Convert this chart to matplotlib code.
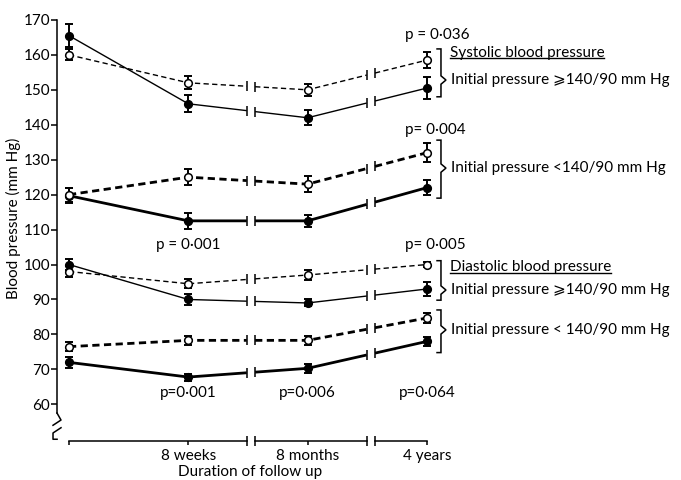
import numpy as np
import matplotlib
matplotlib.use("Agg")
import matplotlib.pyplot as plt

plt.rcParams['font.family'] = ['Lato', 'DejaVu Sans']

# -------------------------------------------------
# Data (mean +/- SE, mm Hg)
# -------------------------------------------------
visits = [0, 1, 2, 3]
visit_labels = ["", "8 weeks", "8 months", "4 years"]

sys_hi_filled = [165.5, 146, 142, 150.5]
sys_hi_filled_se = [3.3, 2.4, 2.2, 3.2]
sys_hi_open = [160, 152, 150, 158.5]
sys_hi_open_se = [1.6, 1.9, 1.8, 2.2]

sys_lo_filled = [119.7, 112.5, 112.5, 122]
sys_lo_filled_se = [2.2, 2.3, 1.7, 2.1]
sys_lo_open = [120, 125, 123, 132]
sys_lo_open_se = [2.0, 2.3, 2.2, 2.7]

dia_hi_filled = [100, 90, 89, 93]
dia_hi_filled_se = [1.5, 1.5, 1.0, 2.0]
dia_hi_open = [98, 94.5, 97, 100]
dia_hi_open_se = [1.5, 1.3, 1.3, 0.7]

dia_lo_filled = [72, 67.8, 70.3, 78]
dia_lo_filled_se = [1.6, 1.0, 1.2, 1.3]
dia_lo_open = [76.5, 78.3, 78.3, 84.7]
dia_lo_open_se = [1.3, 1.3, 1.3, 1.3]

# (values, se, filled marker, thick line)
series = [
    (sys_hi_filled, sys_hi_filled_se, True, False),
    (sys_hi_open, sys_hi_open_se, False, False),
    (sys_lo_filled, sys_lo_filled_se, True, True),
    (sys_lo_open, sys_lo_open_se, False, True),
    (dia_hi_filled, dia_hi_filled_se, True, False),
    (dia_hi_open, dia_hi_open_se, False, False),
    (dia_lo_filled, dia_lo_filled_se, True, True),
    (dia_lo_open, dia_lo_open_se, False, True),
]

# time-axis breaks
gaps = [(1.49, 1.56), (2.495, 2.565)]

p_top = [("p = 0·036", 165.7), ("p= 0·004", 138.5), ("p= 0·005", 105.6)]
p_bottom = [("p=0·001", 1), ("p=0·006", 2), ("p=0·064", 3)]

# -------------------------------------------------
# Figure
# -------------------------------------------------
fig = plt.figure(figsize=(6.81, 4.80), dpi=100)
ax = fig.add_axes([57 / 681, 39 / 480, 624 / 681, 441 / 480])
ax.set_xlim(-0.1006, 5.13)
ax.set_ylim(49.5, 175.7)

for s in ["top", "right", "bottom"]:
    ax.spines[s].set_visible(False)
ax.spines["left"].set_bounds(57.5, 170)
ax.spines["left"].set_linewidth(1.1)
ax.set_yticks(np.arange(60, 171, 10))
ax.tick_params(axis="y", direction="out", length=4, width=1.1, labelsize=11, pad=1)
ax.set_xticks(visits)
ax.set_xticklabels(visit_labels, fontsize=11)
ax.tick_params(axis="x", direction="out", length=3, width=1.1, pad=3)
ax.set_ylabel("Blood pressure (mm Hg)", fontsize=11, va="center")
ax.yaxis.set_label_coords(-0.07, 0.505)
ax.set_xlabel("Duration of follow up", fontsize=11, va="center")
ax.xaxis.set_label_coords((250 - 57) / 624, -0.07)

# broken x axis
edges = [visits[0]] + [g for pair in gaps for g in pair] + [visits[-1]]
ybase = ax.get_ylim()[0]
for a, b in zip(edges[::2], edges[1::2]):
    ax.plot([a, b], [ybase, ybase], color="k", lw=1.1, clip_on=False)
for g in edges[1:-1]:
    ax.plot([g], [ybase], marker="|", ms=7, mew=1.1, color="k", clip_on=False)

# y axis break squiggle
ax.plot([-0.1006, -0.067, -0.134], [57.5, 55.5, 54.0], color="k", lw=1.1, clip_on=False)
ax.plot([-0.067, -0.134, -0.134, -0.1], [53.3, 51.8, 50.0, 50.0], color="k", lw=1.1, clip_on=False)

# -------------------------------------------------
# Series
# -------------------------------------------------
x = np.array(visits, float)
for vals, se, filled, thick in series:
    y = np.array(vals, float)
    lw = 2.0 if thick else 1.0
    if filled:
        ls = "-"
    else:
        ls = (0, (2.6, 1.6)) if thick else (0, (3.8, 2.4))
    for a, b in zip(edges[::2], edges[1::2]):
        xs = np.concatenate(([a], x[(x > a) & (x < b)], [b]))
        ax.plot(xs, np.interp(xs, x, y), color="k", lw=lw, linestyle=ls,
                solid_capstyle="butt", zorder=2)
    for g in edges[1:-1]:
        ax.plot([g], [np.interp(g, x, y)], marker="|", ms=7, mew=1.1,
                color="k", zorder=2)
    ax.errorbar(x, y, yerr=se, fmt="none", ecolor="k", elinewidth=1.4,
                capsize=3, capthick=1.4, zorder=3)
    ax.plot(x, y, "o", ms=5.5, mfc="k" if filled else "w", mec="k",
            mew=1.1, zorder=4)

# -------------------------------------------------
# Annotations
# -------------------------------------------------
def brace(top, bottom, tip):
    xa, xb, xt = 3.085, 3.118, 3.16
    ax.plot([xa, xb, xb, xt, xb, xb, xa],
            [top, top, tip + 1.2, tip, tip - 1.2, bottom, bottom],
            color="k", lw=1.1, solid_joinstyle="miter")

brace(161.7, 148.0, 152.8)
brace(135.6, 119.0, 127.6)
brace(101.1, 89.8, 92.7)
brace(87.0, 74.8, 81.3)

xtxt = 3.2
ax.text(xtxt, 152.8, "Initial pressure ⩾140/90 mm Hg", fontsize=11, va="center")
ax.text(xtxt, 127.6, "Initial pressure <140/90 mm Hg", fontsize=11, va="center")
ax.text(xtxt, 92.7, "Initial pressure ⩾140/90 mm Hg", fontsize=11, va="center")
ax.text(xtxt, 81.3, "Initial pressure < 140/90 mm Hg", fontsize=11, va="center")

heads = [
    ax.text(3.19, 160.6, "Systolic blood pressure", fontsize=11, va="center"),
    ax.text(3.19, 99.3, "Diastolic blood pressure", fontsize=11, va="center"),
]

for label, yv in p_top:
    ax.text(2.82, yv, label, fontsize=11, va="center")
ax.text(1, 105.6, "p = 0·001", fontsize=11, va="center", ha="center")
for label, xv in p_bottom:
    ax.text(xv, 63.2, label, fontsize=11, va="center", ha="center")

# underline the section headings
fig.canvas.draw()
inv = ax.transData.inverted()
for t in heads:
    bb = t.get_window_extent()
    (x0, y0), (x1, _) = inv.transform([(bb.x0, bb.y0), (bb.x1, bb.y1)])
    ax.plot([x0, x1], [y0 + 0.4, y0 + 0.4], color="k", lw=1.0)

fig.savefig("out.png", dpi=100)
